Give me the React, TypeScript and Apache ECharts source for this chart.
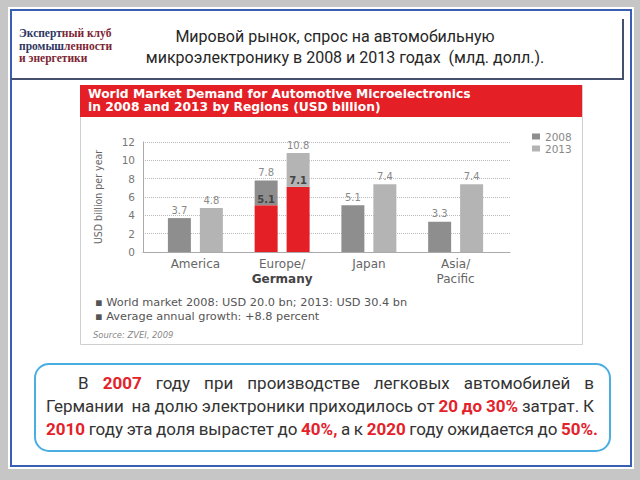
import React, { useEffect, useRef } from 'react';
import * as echarts from 'echarts';

const categories = ['America', 'Europe/\nGermany', 'Japan', 'Asia/\nPacific'];
const values2008 = [3.7, 7.8, 5.1, 3.3];
const values2013 = [4.8, 10.8, 7.4, 7.4];
const germany2008 = [0, 5.1, 0, 0];
const germany2013 = [0, 7.1, 0, 0];
const seriesNames = ['2008', '2013'];
const yMin = 0;
const yMax = 12;
const yInterval = 2;

const chartTitle = ['World Market Demand for Automotive Microelectronics', 'in 2008 and 2013 by Regions (USD billion)'];
const notes = ['\u25AA World market 2008: USD 20.0 bn; 2013: USD 30.4 bn', '\u25AA Average annual growth: +8.8 percent'];
const source = 'Source: ZVEI, 2009';
const slideTitle = ['Мировой рынок, спрос на автомобильную', 'микроэлектронику в 2008 и 2013 годах  (млд. долл.).'];

type Seg = [string, number];
const club: Seg[][] = [
  [['Эксперт', 0], ['ный клуб', 1]],
  [['промыш', 0], ['ленности', 1]],
  [['и энергетики', 1]],
];

type W = [string, boolean];
const para: W[][] = [
  [['В', false], ['2007', true], ['году', false], ['при', false], ['производстве', false], ['легковых', false], ['автомобилей', false], ['в', false]],
  [['Германии', false], ['', false], ['на', false], ['долю', false], ['электроники', false], ['приходилось', false], ['от', false], ['20', true], ['до', true], ['30%', true], ['затрат.', false], ['К', false]],
  [['2010', true], ['году', false], ['эта', false], ['доля', false], ['вырастет', false], ['до', false], ['40%,', true], ['а', false], ['к', false], ['2020', true], ['году', false], ['ожидается', false], ['до', false], ['50%.', true]],
];

export default function App() {
  const ref = useRef<HTMLDivElement>(null);
  useEffect(() => {
    const chart = echarts.init(ref.current!, null, { renderer: 'svg' });
    const canvas = document.createElement('canvas');
    const ctx = canvas.getContext('2d')!;
    const measure = (t: string, size: number, family: string, weight: string) => {
      ctx.font = `${weight} ${size}px ${family}`;
      return ctx.measureText(t).width;
    };

    const els: any[] = [];
    // slide background
    els.push({ type: 'rect', z: -10, silent: true, shape: { x: 8, y: 7, width: 626, height: 462 }, style: { fill: '#ffffff' } });
    els.push({ type: 'rect', z: -9, silent: true, shape: { x: 11, y: 10, width: 620, height: 456 }, style: { fill: 'none', stroke: '#3a5fb2', lineWidth: 2 } });
    // header box shadow lines
    els.push({ type: 'polyline', z: -9, silent: true, shape: { points: [[623, 19], [623, 79], [11, 79]] }, style: { fill: 'none', stroke: '#44506e', lineWidth: 2 } });
    // chart image frame
    els.push({ type: 'rect', z: -9, silent: true, shape: { x: 80.5, y: 85.5, width: 502, height: 259 }, style: { fill: '#ffffff', stroke: '#cfcfcf', lineWidth: 1 } });
    els.push({ type: 'rect', z: -8, silent: true, shape: { x: 80, y: 85, width: 502, height: 32 }, style: { fill: '#e41f26' } });
    chartTitle.forEach((t, i) => {
      els.push({ type: 'text', z: 10, x: 88, y: 94 + i * 13, style: { text: t, fill: '#ffffff', fontSize: 12.3, fontWeight: 'bold', fontFamily: 'DejaVu Sans', textVerticalAlign: 'middle' } });
    });
    notes.forEach((t, i) => {
      els.push({ type: 'text', z: 10, x: 95, y: 302 + i * 14, style: { text: t, fill: '#555', fontSize: 11.3, fontFamily: 'DejaVu Sans', textVerticalAlign: 'middle' } });
    });
    els.push({ type: 'text', z: 10, x: 93, y: 335, style: { text: source, fill: '#888', fontSize: 8.4, fontStyle: 'italic', fontFamily: 'DejaVu Sans', textVerticalAlign: 'middle' } });

    // club text
    const clubColors = ['#2e3763', '#7c2533'];
    const clubFs = 11.5;
    club.forEach((line, li) => {
      let x = 19;
      line.forEach(([t, c]) => {
        els.push({ type: 'text', z: 10, x, y: 33 + li * 12.5, style: { text: t, fill: clubColors[c], fontSize: clubFs, fontWeight: 'bold', fontFamily: 'Liberation Serif', textVerticalAlign: 'middle' } });
        x += measure(t, clubFs, 'Liberation Serif', 'bold');
      });
    });
    // slide title
    const titleCx = [335, 345];
    slideTitle.forEach((t, i) => {
      els.push({ type: 'text', z: 10, x: titleCx[i], y: 36 + i * 21, style: { text: t, fill: '#262626', fontSize: 16, fontFamily: 'Roboto', textAlign: 'center', textVerticalAlign: 'middle' } });
    });

    // rounded text box
    els.push({ type: 'rect', z: -8, silent: true, shape: { x: 35, y: 364, width: 575, height: 87, r: 14 }, style: { fill: '#ffffff', stroke: '#4aaee0', lineWidth: 2 } });
    const lineX0 = [78, 46, 46];
    const lineX1 = [594, 594, 598];
    const fs = 17;
    para.forEach((words, li) => {
      const widths = words.map(([t, r]) => measure(t, fs, 'Roboto', r ? 'bold' : 'normal'));
      const total = widths.reduce((a, b) => a + b, 0);
      const gap = (lineX1[li] - lineX0[li] - total) / (words.length - 1);
      let x = lineX0[li];
      words.forEach(([t, r], wi) => {
        if (t) {
          els.push({ type: 'text', z: 10, x, y: 383 + li * 23, style: { text: t, fill: r ? '#e3222a' : '#333333', fontSize: fs, fontWeight: r ? 'bold' : 'normal', fontFamily: 'Roboto', textVerticalAlign: 'middle' } });
        }
        x += widths[wi] + gap;
      });
    });

    const barCommon = { type: 'bar', barWidth: 23, barGap: '39%', xAxisIndex: 0, yAxisIndex: 0 };
    const totalLabel = (vals: number[]) => ({ show: true, position: 'top', distance: 3, color: '#8a8a8a', fontSize: 10, fontFamily: 'DejaVu Sans', formatter: (p: any) => vals[p.dataIndex].toFixed(1) });
    const gerLabel = { show: true, position: 'top', distance: 1, color: '#444', fontSize: 10, fontWeight: 'bold', fontFamily: 'DejaVu Sans', formatter: (p: any) => (p.value ? Number(p.value).toFixed(1) : '') };

    chart.setOption({
      animation: false,
      backgroundColor: '#c6c6c6',
      textStyle: { fontFamily: 'DejaVu Sans' },
      grid: [
        { left: 152, right: 141, top: 142, bottom: 228 },
        { left: 143, right: 130, top: 142, bottom: 228 },
      ],
      legend: {
        data: seriesNames,
        orient: 'vertical',
        left: 527,
        top: 126,
        itemWidth: 8,
        itemHeight: 6,
        itemGap: 1,
        icon: 'rect',
        textStyle: { color: '#888', fontSize: 10.5, fontFamily: 'DejaVu Sans' },
      },
      xAxis: [
        {
          type: 'category', gridIndex: 0, data: categories,
          axisLine: { show: false }, axisTick: { show: false },
          axisLabel: {
            interval: 0,
            margin: 4, fontSize: 12, color: '#666', lineHeight: 15, fontFamily: 'DejaVu Sans',
            formatter: (v: string) => v.replace('Germany', '{g|Germany}'),
            rich: { g: { fontWeight: 'bold', color: '#444', fontSize: 12, fontFamily: 'DejaVu Sans', lineHeight: 15 } },
          },
        },
        {
          type: 'value', gridIndex: 1, min: 0, max: 1,
          axisLine: { show: true, onZero: false, lineStyle: { color: '#aaa' } },
          axisTick: { show: false }, axisLabel: { show: false }, splitLine: { show: false },
        },
      ],
      yAxis: [
        { type: 'value', gridIndex: 0, min: yMin, max: yMax, interval: yInterval, show: false },
        {
          type: 'value', gridIndex: 1, min: yMin, max: yMax, interval: yInterval,
          name: 'USD billion per year', nameLocation: 'middle', nameGap: 40,
          nameTextStyle: { color: '#666', fontSize: 10.5, fontFamily: 'Liberation Sans Narrow, DejaVu Sans Condensed, sans-serif' },
          axisLine: { show: true, lineStyle: { color: '#aaa' } },
          axisTick: { show: false },
          axisLabel: { color: '#777', fontSize: 10.5, margin: 8, fontFamily: 'DejaVu Sans' },
          splitLine: { show: true, lineStyle: { type: 'dotted', color: '#bbb' } },
        },
      ],
      series: [
        { ...barCommon, name: 'Germany 2008', stack: 's08', data: germany2008, itemStyle: { color: '#e41f26' }, label: gerLabel },
        { ...barCommon, name: seriesNames[0], stack: 's08', data: values2008.map((v, i) => v - germany2008[i]), itemStyle: { color: '#8e8e8e' }, label: totalLabel(values2008) },
        { ...barCommon, name: 'Germany 2013', stack: 's13', data: germany2013, itemStyle: { color: '#e41f26' }, label: gerLabel },
        { ...barCommon, name: seriesNames[1], stack: 's13', data: values2013.map((v, i) => v - germany2013[i]), itemStyle: { color: '#b4b4b4' }, label: totalLabel(values2013) },
      ],
      graphic: { elements: els },
    });
    return () => chart.dispose();
  }, []);
  return <div ref={ref} style={{ position: 'fixed', left: 0, top: 0, width: 640, height: 480 }} />;
}
